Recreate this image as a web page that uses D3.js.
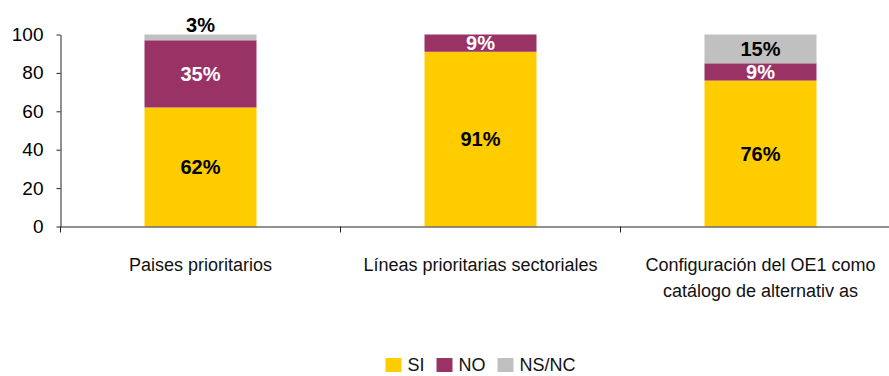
<!DOCTYPE html>
<html>
<head>
<meta charset="utf-8">
<script src="https://cdn.jsdelivr.net/npm/d3@7"></script>
<style>
  body { margin: 0; background: #fff; }
  svg { display: block; font-family: Arial, "Liberation Sans", sans-serif; }
</style>
</head>
<body>
<div id="chart"></div>
<script>
// data
var categories = ["Paises prioritarios", "Líneas prioritarias sectoriales", "Configuración del OE1 como catálogo de alternativ as"];
var catLines = [["Paises prioritarios"], ["Líneas prioritarias sectoriales"], ["Configuración del OE1 como", "catálogo de alternativ as"]];
var seriesNames = ["SI", "NO", "NS/NC"];
var siValues = [62, 91, 76];
var noValues = [35, 9, 9];
var nsValues = [3, 0, 15];
var yTicks = [0, 20, 40, 60, 80, 100];

var colors = { "SI": "#FFCC00", "NO": "#993366", "NS/NC": "#C0C0C0" };
var labelColors = { "SI": "#000", "NO": "#fff", "NS/NC": "#000" };

var width = 889, height = 376;

var svg = d3.select("#chart").append("svg")
  .attr("width", width)
  .attr("height", height);

// build rows for the stack
var rows = categories.map(function(c, i) {
  return { cat: c, "SI": siValues[i], "NO": noValues[i], "NS/NC": nsValues[i] };
});
var stack = d3.stack().keys(seriesNames)(rows);

var x = d3.scaleBand()
  .domain(categories)
  .range([60.5, 900.5])
  .paddingInner(0.6)
  .paddingOuter(0.3);

var y = d3.scaleLinear()
  .domain([0, 100])
  .range([226.5, 34.5]);

svg.append("defs").append("clipPath")
  .attr("id", "plotclip")
  .append("rect")
  .attr("x", 60).attr("y", y(100))
  .attr("width", 840).attr("height", y(0) - y(100));

// bars
var layers = svg.append("g").selectAll("g")
  .data(stack)
  .enter().append("g")
  .attr("fill", function(d) { return colors[d.key]; });

layers.selectAll("rect")
  .data(function(d) { return d; })
  .enter().append("rect")
  .attr("x", function(d) { return x(d.data.cat); })
  .attr("width", x.bandwidth())
  .attr("y", function(d) { return y(d[1]); })
  .attr("height", function(d) { return y(d[0]) - y(d[1]); });

// y axis
var yAxis = d3.axisLeft(y)
  .tickValues(yTicks)
  .tickSize(4)
  .tickPadding(13)
  .tickSizeOuter(0);

var gy = svg.append("g")
  .attr("transform", "translate(60.5,0)")
  .call(yAxis);
gy.selectAll("text").attr("font-size", "19px").attr("fill", "#000").attr("font-family", "Arial, 'Liberation Sans', sans-serif");
gy.selectAll("line, path").attr("stroke", "#222");

// x axis
var gx = svg.append("g")
  .attr("transform", "translate(0," + y(0) + ")")
  .call(d3.axisBottom(x).tickSize(0).tickFormat(""));
gx.select(".domain").attr("stroke", "#222");

var gap = (x.step() - x.bandwidth()) / 2;
gx.selectAll(".bound")
  .data(categories)
  .enter().append("line")
  .attr("class", "bound")
  .attr("x1", function(d) { return x(d) - gap; })
  .attr("x2", function(d) { return x(d) - gap; })
  .attr("y1", 0)
  .attr("y2", 6)
  .attr("stroke", "#222");

// category labels
categories.forEach(function(c, i) {
  var t = svg.append("text")
    .attr("text-anchor", "middle")
    .attr("font-size", "18px")
    .attr("fill", "#111");
  catLines[i].forEach(function(line, j) {
    t.append("tspan")
      .attr("x", x(c) + x.bandwidth() / 2)
      .attr("y", 271 + j * 26)
      .text(line);
  });
});

// value labels
var labels = [];
stack.forEach(function(layer) {
  layer.forEach(function(d) {
    var v = d[1] - d[0];
    if (v > 0) labels.push({ key: layer.key, cat: d.data.cat, v: v, y0: d[0], y1: d[1] });
  });
});

var inside = svg.append("g").attr("clip-path", "url(#plotclip)");
labels.forEach(function(l) {
  var h = y(l.y0) - y(l.y1);
  var outside = h < 10;
  var ty = outside ? y(l.y1) - 10 : (y(l.y0) + y(l.y1)) / 2;
  (outside ? svg : inside).append("text")
    .attr("x", x(l.cat) + x.bandwidth() / 2)
    .attr("y", ty)
    .attr("dy", "0.36em")
    .attr("text-anchor", "middle")
    .attr("font-size", "20px")
    .attr("font-weight", "bold")
    .attr("fill", outside ? "#000" : labelColors[l.key])
    .text(l.v + "%");
});

// legend
var legend = svg.append("g");
var lx = 0;
seriesNames.forEach(function(s) {
  var g = legend.append("g").attr("transform", "translate(" + lx + ",0)");
  g.append("rect").attr("width", 16).attr("height", 14).attr("fill", colors[s]);
  var t = g.append("text")
    .attr("x", 22)
    .attr("y", 13)
    .attr("font-size", "18px")
    .attr("fill", "#111")
    .text(s);
  lx += 22 + t.node().getComputedTextLength() + 12;
});
var legendW = lx - 12;
legend.attr("transform", "translate(" + (480.5 - legendW / 2) + ",358)");
</script>
</body>
</html>
